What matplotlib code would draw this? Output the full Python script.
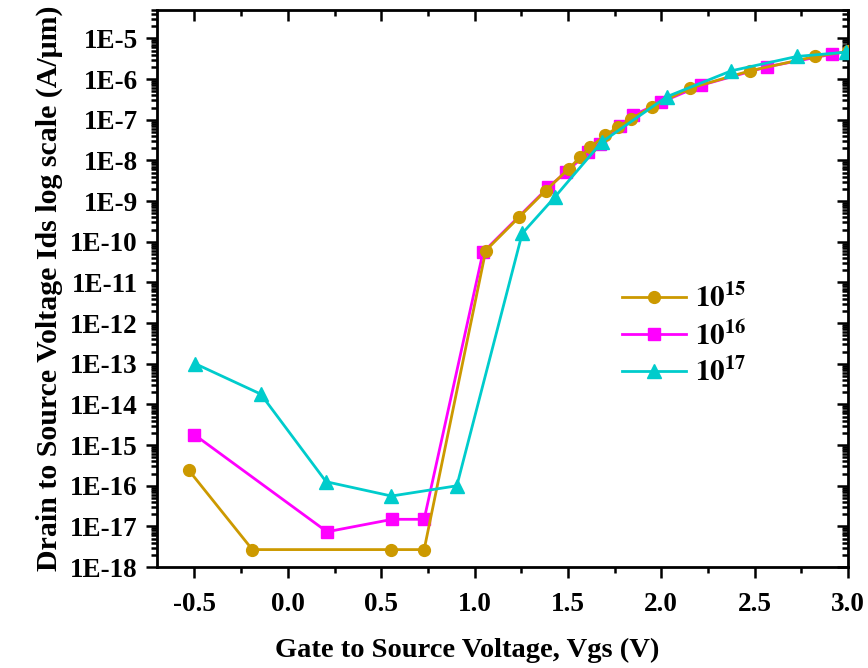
import numpy as np
import matplotlib
matplotlib.use("Agg")
import matplotlib.pyplot as plt
from matplotlib.ticker import LogLocator, FuncFormatter, MultipleLocator, NullFormatter

plt.rcParams['font.family'] = ['Liberation Serif', 'DejaVu Serif']
plt.rcParams['font.weight'] = 'bold'
plt.rcParams['mathtext.fontset'] = 'stix'

# Vgs (V) and Ids (A/um)
v15 = [-0.53, -0.19, 0.555, 0.73, 1.06, 1.24, 1.38, 1.505, 1.565, 1.62, 1.70, 1.77, 1.84, 1.95, 2.155, 2.475, 2.825, 3.0]
i15 = [2.4e-16, 2.7e-18, 2.7e-18, 2.7e-18, 6.1e-11, 4.1e-10, 1.8e-9, 6.3e-9, 1.2e-8, 2.1e-8, 4.2e-8, 6.6e-8,
       1.07e-7, 2.1e-7, 6.0e-7, 1.6e-6, 3.6e-6, 4.8e-6]

v16 = [-0.5, 0.21, 0.56, 0.73, 1.045, 1.395, 1.49, 1.61, 1.67, 1.78, 1.85, 2.0, 2.215, 2.565, 2.915]
i16 = [1.8e-15, 7.4e-18, 1.5e-17, 1.5e-17, 5.5e-11, 2.2e-9, 5.2e-9, 1.6e-8, 2.6e-8, 6.9e-8, 1.3e-7,
       2.7e-7, 7.1e-7, 2.0e-6, 4.1e-6]

v17 = [-0.495, -0.145, 0.205, 0.555, 0.905, 1.255, 1.43, 1.68, 2.03, 2.375, 2.725, 2.99]
i17 = [1.0e-13, 1.8e-14, 1.26e-16, 5.6e-17, 1.0e-16, 1.6e-10, 1.26e-9, 2.8e-8, 3.7e-7, 1.6e-6, 3.6e-6, 4.6e-6]

labels = [r'$\mathbf{10^{15}}$', r'$\mathbf{10^{16}}$', r'$\mathbf{10^{17}}$']
colors = ['#CC9900', '#FF00FF', '#00CCCC']

fig = plt.figure(figsize=(8.68, 6.68), dpi=100)
ax = fig.add_axes([0.181, 0.151, 0.796, 0.834])

l15, = ax.plot(v15, i15, color=colors[0], marker='o', ms=8.5, lw=2, zorder=3, label=labels[0])
l16, = ax.plot(v16, i16, color=colors[1], marker='s', ms=9, lw=2, zorder=2, label=labels[1])
l17, = ax.plot(v17, i17, color=colors[2], marker='^', ms=10, lw=2, zorder=4, label=labels[2])

ax.set_yscale('log')
ax.set_xlim(-0.7, 3.0)
ax.set_ylim(1e-18, 5e-5)

ax.xaxis.set_major_locator(MultipleLocator(0.5))
ax.xaxis.set_minor_locator(MultipleLocator(0.25))
ax.xaxis.set_major_formatter(FuncFormatter(lambda v, p: f"{v:.1f}"))
ax.yaxis.set_major_locator(LogLocator(base=10, numticks=30))
ax.yaxis.set_minor_locator(LogLocator(base=10, subs=np.arange(2, 10), numticks=30))
ax.yaxis.set_minor_formatter(NullFormatter())
ax.yaxis.set_major_formatter(FuncFormatter(lambda v, p: f"1E{int(round(np.log10(v)))}"))

for s in ax.spines.values():
    s.set_linewidth(2)

ax.tick_params(which='both', width=1.8)
ax.tick_params(which='major', length=8, labelsize=19.5)
ax.tick_params(which='minor', length=4)
ax.tick_params(axis='x', which='both', direction='out', top=False, pad=10)
ax.tick_params(axis='y', which='both', direction='out', right=False, pad=6)
# mirrored ticks pointing inward on top and right
ax2 = ax.secondary_xaxis('top')
ax2.xaxis.set_major_locator(MultipleLocator(0.5))
ax2.xaxis.set_minor_locator(MultipleLocator(0.25))
ax2.tick_params(which='both', direction='in', width=1.8, labeltop=False)
ax2.tick_params(which='major', length=8)
ax2.tick_params(which='minor', length=4)
ax3 = ax.secondary_yaxis('right')
ax3.set_yscale('log')
ax3.yaxis.set_major_locator(LogLocator(base=10, numticks=30))
ax3.yaxis.set_minor_locator(LogLocator(base=10, subs=np.arange(2, 10), numticks=30))
ax3.tick_params(which='both', direction='in', width=1.8, labelright=False)
ax3.tick_params(which='major', length=8)
ax3.tick_params(which='minor', length=4)

for lab in ax.get_xticklabels() + ax.get_yticklabels():
    lab.set_fontweight('bold')

ax.set_xlabel('Gate to Source Voltage, Vgs (V)', fontsize=20.5, fontweight='bold')
ax.xaxis.label.set_verticalalignment('center')
ax.xaxis.set_label_coords(0.449, -0.149)
ax.set_ylabel('Drain to Source Voltage Ids log scale (A/\u03bcm)', fontsize=21.5, fontweight='bold', labelpad=5)

ax.legend(handles=[l15, l16, l17], loc='upper left', bbox_to_anchor=(0.635, 0.555), frameon=False,
          fontsize=21, handlelength=2.2, labelspacing=0.25, handletextpad=0.3)

fig.savefig('out.png', dpi=100)
